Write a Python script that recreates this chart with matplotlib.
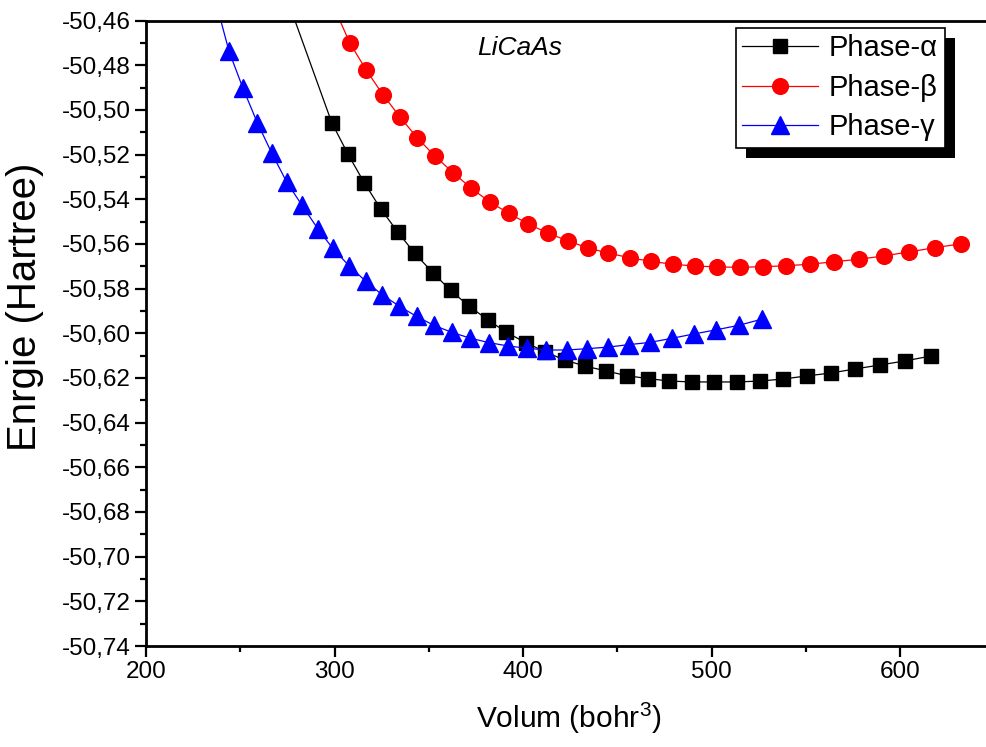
"""LiCaAs - energy vs volume for the three phases."""
import matplotlib
matplotlib.use("Agg")
from matplotlib import pyplot as plt
from matplotlib.patches import Rectangle
from matplotlib.ticker import FuncFormatter, MultipleLocator

plt.rcParams["font.family"] = ["Liberation Sans", "DejaVu Sans"]
plt.rcParams["mathtext.fontset"] = "custom"
plt.rcParams["mathtext.rm"] = "Liberation Sans"

# first value of every series lies above the plot (the line leaves the top edge)
vol_alpha = [270, 298.5, 307.1, 315.7, 324.4, 333.5, 342.6, 352.2, 361.5, 371.2, 381.1,
             391.0, 401.3, 411.7, 422.0, 432.9, 444.1, 455.0, 466.3, 477.6, 489.5,
             501.2, 513.4, 525.6, 537.7, 550.5, 563.2, 575.9, 589.2, 602.4, 616.2]
e_alpha = [-50.439, -50.5057, -50.5198, -50.5326, -50.5442, -50.5547, -50.5643, -50.5730,
           -50.5808, -50.5878, -50.5939, -50.5995, -50.6042, -50.6083, -50.6120, -50.6147,
           -50.6169, -50.6190, -50.6203, -50.6214, -50.6218, -50.6218, -50.6218, -50.6214,
           -50.6205, -50.6191, -50.6178, -50.6160, -50.6142, -50.6124, -50.6102]

vol_beta = [290, 308.2, 316.8, 325.7, 334.8, 343.8, 353.2, 362.8, 372.5, 382.4, 392.4,
            402.7, 413.0, 423.6, 434.2, 445.1, 456.4, 467.7, 479.2, 490.9, 502.8,
            514.8, 527.0, 539.3, 552.1, 564.8, 577.9, 591.1, 604.6, 618.2, 632.0]
e_beta = [-50.436, -50.4702, -50.4822, -50.4933, -50.5033, -50.5125, -50.5207, -50.5281,
          -50.5351, -50.5413, -50.5463, -50.5511, -50.5551, -50.5586, -50.5618, -50.5641,
          -50.5662, -50.5678, -50.5691, -50.5699, -50.5703, -50.5705, -50.5702, -50.5698,
          -50.5691, -50.5680, -50.5669, -50.5654, -50.5636, -50.5617, -50.5600]

vol_gamma = [230, 244.0, 251.4, 259.0, 266.6, 274.6, 282.7, 291.1, 299.0, 307.8, 316.5,
             325.4, 334.4, 343.5, 352.8, 362.2, 371.9, 381.9, 392.0, 401.9, 412.2,
             423.1, 434.0, 445.1, 456.0, 467.2, 478.7, 490.6, 502.2, 514.6, 526.5]
e_gamma = [-50.4293, -50.4737, -50.4903, -50.5057, -50.5192, -50.5323, -50.5427, -50.5532,
           -50.5620, -50.5699, -50.5767, -50.5829, -50.5879, -50.5925, -50.5965, -50.5996,
           -50.6022, -50.6042, -50.6057, -50.6067, -50.6075, -50.6075, -50.6069, -50.6062,
           -50.6051, -50.6041, -50.6023, -50.6003, -50.5985, -50.5964, -50.5937]

labels = ["Phase-\u03b1", "Phase-\u03b2", "Phase-\u03b3"]


def comma(v, pos):
    return f"{v:.2f}".replace(".", ",")


def main():
    fig = plt.figure(figsize=(9.86, 7.47), dpi=100)
    ax = fig.add_axes([146 / 986, 101 / 747, 848.6 / 986, 625.5 / 747])

    ax.plot(vol_alpha, e_alpha, color="black", lw=0.9, marker="s", ms=9.6,
            label=labels[0])
    ax.plot(vol_beta, e_beta, color="#ff0000", lw=0.9, marker="o", ms=11.3,
            label=labels[1])
    ax.plot(vol_gamma, e_gamma, color="#0000ff", lw=0.9, marker="^", ms=12.5,
            label=labels[2])

    ax.set_xlim(200, 650)
    ax.set_ylim(-50.74, -50.46)
    ax.xaxis.set_major_locator(MultipleLocator(100))
    ax.xaxis.set_minor_locator(MultipleLocator(50))
    ax.yaxis.set_major_locator(MultipleLocator(0.02))
    ax.yaxis.set_minor_locator(MultipleLocator(0.01))
    ax.yaxis.set_major_formatter(FuncFormatter(comma))

    for side in ["left", "bottom", "top"]:
        ax.spines[side].set_linewidth(2)
    ax.spines["right"].set_visible(False)
    ax.tick_params(which="major", direction="out", length=8, width=1.6,
                   labelsize=17.5, pad=3)
    ax.tick_params(which="minor", direction="out", length=4.5, width=1.6)

    fig.text(569 / 986, 1 - 718 / 747, "Volum (bohr$^3$)", fontsize=21.5,
             ha="center", va="center")
    fig.text(25 / 986, 1 - 307 / 747, "Enrgie (Hartree)", fontsize=29,
             rotation=90, ha="center", va="center")
    ax.text(0.4407, 0.956, "LiCaAs", transform=ax.transAxes, fontsize=19,
            style="italic", ha="center", va="center")

    leg = ax.legend(loc="upper left", bbox_to_anchor=(0.695, 0.988),
                    borderaxespad=0, fontsize=21, fancybox=False, framealpha=1,
                    edgecolor="black", handlelength=2.6, handletextpad=0.38,
                    labelspacing=0.39, borderpad=0.22)
    leg.get_frame().set_linewidth(1.2)

    # solid black drop shadow like the Origin legend
    fig.canvas.draw()
    bb = leg.get_window_extent()
    shadow = Rectangle((bb.x0 + 10, bb.y0 - 10), bb.width, bb.height,
                       transform=None, facecolor="black", edgecolor="none",
                       zorder=4.9, clip_on=False)
    ax.add_artist(shadow)

    fig.savefig("out.png", dpi=100)
    plt.close(fig)


if __name__ == "__main__":
    main()
